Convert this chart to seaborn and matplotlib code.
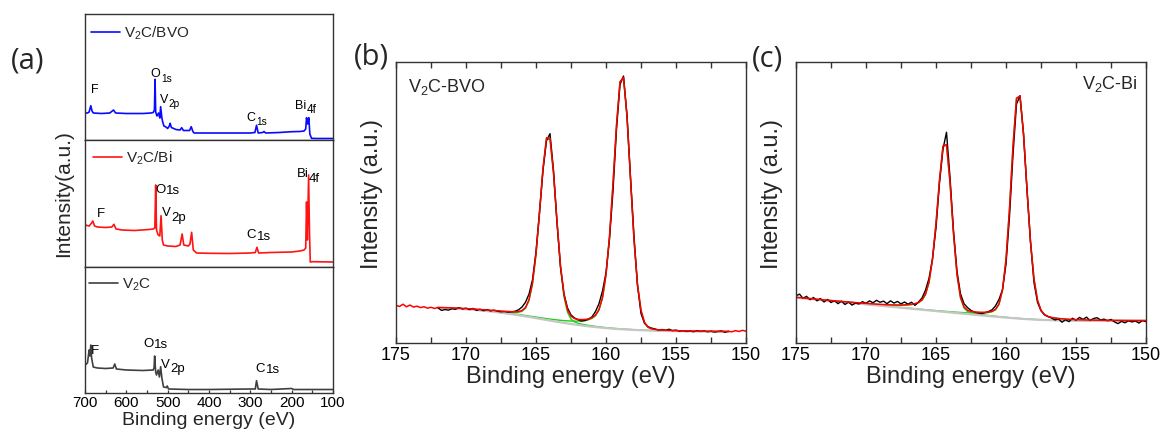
import numpy as np
import pandas as pd
import matplotlib
matplotlib.use("Agg")
import matplotlib.pyplot as plt
from matplotlib.ticker import MultipleLocator
import seaborn as sns

# ---------------- survey spectra, panel (a) ----------------
# binding energy (eV) / intensity (arb. units, offset per trace)
bvo_energy = [700, 694, 690, 686, 683, 680, 660, 640, 631, 626,
              600, 560, 540, 535, 532, 530.5, 529, 526, 522, 519,
              517, 514, 512, 509, 504, 500, 496, 494, 491, 480,
              470, 466, 462, 447, 443, 439, 436, 400, 350, 300,
              289, 285, 281, 270, 267, 263, 230, 200, 180, 170,
              166, 164, 161.5, 158.5, 156, 152, 140, 100]
bvo_counts = [27, 27, 28, 34.3, 29, 27, 26.5, 27, 30, 27,
              26.5, 26.5, 27, 27.5, 30, 60.7, 28, 24, 27, 22,
              33.3, 22, 18, 14, 13, 11.5, 14, 16.7, 12.5, 10.5,
              10, 12.3, 9.5, 9.5, 13.3, 8.5, 7, 7, 7, 7,
              7.5, 14.7, 7, 7.5, 8.5, 7, 7.5, 8.3, 8.5, 9,
              11, 22.3, 16, 22.3, 6, 1.7, 1.5, 1.5]

bi_energy = [700, 690, 684, 681, 677, 670, 650, 635, 630, 625,
             610, 580, 545, 535, 531, 529, 527, 523, 519, 516,
             513, 510, 500, 480, 470, 465, 461, 450, 446, 442,
             438, 430, 400, 350, 300, 288, 284, 280, 250, 200,
             180, 170, 166, 164, 162, 159, 157, 155, 150, 100]
bi_counts = [42, 41, 44, 46, 41, 40, 39.5, 40, 42.7, 38,
             37, 36.5, 37.5, 38, 39, 82, 37, 32, 31, 51.3,
             27, 22, 21, 20.5, 22, 33, 22, 21, 23, 34.7,
             17, 14, 13.7, 13.5, 14, 14.5, 19.7, 14, 14.5, 15,
             16, 17, 19, 65, 27, 92, 37, 5, 5.3, 5]

v2c_energy = [700, 694, 690, 688, 686, 684, 680, 670, 650, 632,
              628, 624, 600, 560, 535, 533, 531.5, 529, 527, 523,
              520, 517, 514, 510, 503, 501, 498, 450, 400, 300,
              288, 285, 281, 250, 200, 195, 150, 100]
v2c_counts = [28, 30, 43, 37, 48, 35, 26, 25, 24.5, 25,
              29, 24, 23, 22.5, 23, 25, 37, 21, 18, 23,
              16, 26.3, 15, 6, 5.5, 7, 4, 3.5, 3.5, 4,
              4, 12.3, 4, 3.5, 4.5, 3.5, 3.5, 3.5]

survey_ticks = [700, 600, 500, 400, 300, 200, 100]

# ---------------- V 2p high-resolution spectra, panels (b), (c) ----------------
hr_energy = np.linspace(175.0, 150.0, 101)   # 0.25 eV steps

bvo_hr_counts = [
    13.4, 13.0, 13.8, 12.9, 13.5, 12.8, 13.1, 12.6, 12.9, 12.4,
    12.7, 12.3, 12.5, 11.6, 11.9, 11.7, 12.2, 12.0, 12.6, 12.1,
    12.4, 11.9, 12.3, 11.6, 12.0, 11.5, 11.9, 11.4, 11.7, 11.3,
    11.1, 11.2, 11.0, 11.1, 11.3, 11.8, 12.8, 14.5, 17.4, 22.5,
    32.5, 46.5, 61.5, 72.0, 74.5, 61.5, 43.0, 27.0, 17.5, 12.5,
    10.0, 8.9, 8.3, 7.8, 8.0, 8.5, 9.3, 11.2, 14.0, 18.5,
    25.0, 37.0, 54.0, 76.0, 92.0, 95.0, 81.0, 59.0, 38.0, 20.5,
    10.5, 7.0, 5.8, 5.3, 5.0, 4.6, 4.8, 4.5, 4.9, 4.4,
    4.6, 4.2, 4.4, 4.1, 4.3, 4.0, 4.4, 4.1, 4.3, 4.0,
    4.2, 3.9, 4.1, 4.3, 3.8, 4.2, 4.0, 4.4, 4.1, 4.5,
    4.2]

bi_hr_counts = [
    16.8, 17.4, 15.9, 16.6, 15.4, 16.2, 15.0, 15.8, 14.6, 15.5,
    14.4, 15.1, 14.0, 14.9, 13.7, 14.6, 13.5, 14.2, 13.9, 14.7,
    14.1, 15.0, 14.3, 15.2, 14.5, 14.9, 14.0, 15.0, 14.2, 14.8,
    13.9, 14.6, 13.8, 14.5, 13.4, 14.6, 16.0, 18.8, 23.0, 30.0,
    41.0, 57.0, 69.0, 75.0, 59.0, 40.0, 25.5, 17.5, 14.0, 12.6,
    11.6, 11.0, 10.7, 10.5, 10.8, 11.2, 11.8, 13.2, 15.5, 19.0,
    28.0, 45.0, 67.0, 85.0, 88.0, 74.5, 54.5, 36.0, 21.5, 14.5,
    11.5, 10.0, 9.4, 8.9, 8.2, 8.6, 7.4, 8.3, 7.6, 8.8,
    8.1, 9.1, 8.4, 9.2, 8.0, 8.7, 9.0, 8.2, 8.5, 7.9,
    8.4, 7.5, 6.9, 7.7, 7.2, 7.9, 7.5, 7.8, 7.1, 8.0,
    7.6]

# fitted V 2p1/2 and 2p3/2 components (asymmetric pseudo-Voigt):
# centre, height, FWHM / Lorentzian fraction on the low- and high-BE sides
bvo_fit_centers = [164.12, 158.85]
bvo_fit_heights = [66.0, 90.9]
bvo_fit_fwhm_low = [1.30, 1.38]
bvo_fit_fwhm_high = [1.40, 1.45]
bvo_fit_eta_low = [0.10, 0.05]
bvo_fit_eta_high = [0.15, 0.30]
bvo_fit_window = (172.0, 151.25)
# background: base + step*sigmoid((E-c)/w) + slope*soft*softplus((E-knee)/soft)
bvo_bg = dict(base=4.0, step=9.0, center=164.6, width=2.6, slope=0.0, knee=157.0, soft=1.0)

bi_fit_centers = [164.36, 159.12]
bi_fit_heights = [61.0, 81.0]
bi_fit_fwhm_low = [1.15, 1.38]
bi_fit_fwhm_high = [1.30, 1.22]
bi_fit_eta_low = [0.10, 0.15]
bi_fit_eta_high = [0.35, 0.20]
bi_fit_window = (175.0, 150.0)
bi_bg = dict(base=7.9, step=0.0, center=164.0, width=2.0, slope=0.48, knee=157.8, soft=1.2)

hr_ticks = [175, 170, 165, 160, 155, 150]

# ---------------- styling ----------------
sns.set_theme(style="ticks")
plt.rcParams["font.family"] = ["Liberation Sans", "DejaVu Sans"]
plt.rcParams.update({
    "mathtext.fontset": "custom",
    "mathtext.rm": "Liberation Sans",
    "mathtext.it": "Liberation Sans:italic",
    "mathtext.bf": "Liberation Sans:bold",
    "axes.edgecolor": "#333333",
    "axes.linewidth": 1.0,
    "xtick.color": "#333333",
    "xtick.labelcolor": "black",
    "xtick.direction": "in",
    "axes.facecolor": "white",
    "figure.facecolor": "white",
})

W, H = 1169, 441
fig = plt.figure(figsize=(W / 100, H / 100), dpi=100)


def box(left, top, right, bottom):
    return fig.add_axes([left / W, 1 - bottom / H, (right - left) / W, (bottom - top) / H])


def pseudo_voigt(e, center, height, fwhm_lo, fwhm_hi, eta_lo, eta_hi):
    high_side = e >= center
    fwhm = np.where(high_side, fwhm_hi, fwhm_lo)
    eta = np.where(high_side, eta_hi, eta_lo)
    x2 = (2.0 * (e - center) / fwhm) ** 2
    return height * ((1 - eta) * np.exp(-np.log(2) * x2) + eta / (1 + x2))


def background(e, base, step, center, width, slope, knee, soft):
    sig = 1.0 / (1.0 + np.exp(-(e - center) / width))
    return base + step * sig + slope * soft * np.log1p(np.exp((e - knee) / soft))


def peak_label(ax, energy, level, main, sub=None, size=9.5, sub_size=None, drop=1.0):
    t = ax.text(energy, level, main, fontsize=size, ha="left", va="baseline", color="black")
    if sub:
        ax.annotate(sub, xy=(1, 0), xycoords=t, xytext=(0.3, -drop),
                    textcoords="offset points", fontsize=sub_size or size,
                    ha="left", va="bottom", color="black")


# ---------------- panel (a) ----------------
survey = [
    ("V$_2$C/BVO", bvo_energy, bvo_counts, "#0a0aff", (85, 14, 333, 140), 126, (0.023, 0.915)),
    ("V$_2$C/Bi", bi_energy, bi_counts, "#ff1414", (85, 140, 333, 267), 127, (0.032, 0.928)),
    ("V$_2$C", v2c_energy, v2c_counts, "#404040", (85, 267, 333, 393), 126, (0.016, 0.922)),
]
survey_axes = []
for name, en, ct, col, rect, ytop, leg_xy in survey:
    ax = box(*rect)
    df = pd.DataFrame({"energy": en, "counts": ct})
    sns.lineplot(data=df, x="energy", y="counts", ax=ax, color=col, lw=1.2,
                 sort=False, estimator=None, label=name)
    ax.set_xlim(700, 100)
    ax.set_ylim(0, ytop)
    ax.set_xlabel("")
    ax.set_ylabel("")
    ax.set_yticks([])
    ax.tick_params(axis="x", which="both", bottom=False, labelbottom=False)
    ax.legend(loc="upper left", bbox_to_anchor=leg_xy, frameon=False, fontsize=11,
              handlelength=1.9, handletextpad=0.25, borderpad=0, borderaxespad=0)
    survey_axes.append(ax)

ax_top, ax_mid, ax_bot = survey_axes
ax_bot.set_xticks(survey_ticks)
ax_bot.xaxis.set_minor_locator(MultipleLocator(50))
ax_bot.tick_params(axis="x", which="both", bottom=True, labelbottom=True,
                   length=2.5, width=0.9, pad=2.5, labelsize=11)
ax_bot.set_xlabel("Binding energy (eV)", fontsize=14, labelpad=1)

# peak assignments
peak_label(ax_top, 686.2, 46.7, "F", size=9)
peak_label(ax_top, 541.0, 62.7, "O", "1s", size=9, sub_size=7.3, drop=2.4)
peak_label(ax_top, 518.5, 37.3, "V", "2p", size=9, sub_size=7.3, drop=2.4)
peak_label(ax_top, 308.8, 19.0, "C", "1s", size=9, sub_size=7.3, drop=2.4)
peak_label(ax_top, 192.0, 30.7, "Bi", "4f", size=9, sub_size=8.5, drop=2.4)

peak_label(ax_mid, 670.2, 49.7, "F", size=9.5)
peak_label(ax_mid, 529.0, 73.7, "O", "1s", size=9.5, drop=0.8)
peak_label(ax_mid, 513.0, 51.0, "V", "2p", size=9.5, drop=3.3)
peak_label(ax_mid, 308.8, 28.7, "C", "1s", size=9.5, drop=1.5)
peak_label(ax_mid, 187.5, 89.7, "Bi", "4f", size=9.5, drop=3.5)

peak_label(ax_bot, 686.2, 39.0, "F", size=9.5)
peak_label(ax_bot, 558.9, 45.7, "O", "1s", size=9.5, drop=0.7)
peak_label(ax_bot, 515.4, 25.3, "V", "2p", size=9.5, drop=3.0)
peak_label(ax_bot, 287.0, 21.3, "C", "1s", size=9.5, drop=0.7)

fig.text(73.5 / W, 1 - 194 / H, "Intensity(a.u.)", rotation=90, ha="right", va="center",
         fontsize=15)

# ---------------- panels (b) and (c) ----------------
hr = [
    ("V$_2$C-BVO", bvo_hr_counts,
     (bvo_fit_centers, bvo_fit_heights, bvo_fit_fwhm_low, bvo_fit_fwhm_high,
      bvo_fit_eta_low, bvo_fit_eta_high),
     bvo_bg, bvo_fit_window, (396, 62, 746, 343), (0.034, 0.894, "left")),
    ("V$_2$C-Bi", bi_hr_counts,
     (bi_fit_centers, bi_fit_heights, bi_fit_fwhm_low, bi_fit_fwhm_high,
      bi_fit_eta_low, bi_fit_eta_high),
     bi_bg, bi_fit_window, (796, 62, 1146, 343), (0.977, 0.903, "right")),
]
for name, counts, fit, bgp, window, rect, tag in hr:
    ax = box(*rect)
    e = hr_energy
    data = np.asarray(counts)
    inside = (e <= window[0] + 1e-9) & (e >= window[1] - 1e-9)
    bg = background(e, **bgp)
    comps = [pseudo_voigt(e, *p) for p in zip(*fit)]
    envelope = bg + np.sum(comps, axis=0)
    fit_line = np.where(inside, envelope, data)

    for comp in comps:
        sns.lineplot(x=e[inside], y=(bg + comp)[inside], ax=ax, color="#18d018", lw=1.0,
                     sort=False, estimator=None)
    sns.lineplot(x=e[inside], y=bg[inside], ax=ax, color="#c6c6c6", lw=1.6,
                 sort=False, estimator=None)
    sns.lineplot(x=e[inside], y=data[inside], ax=ax, color="black", lw=1.0,
                 sort=False, estimator=None)
    sns.lineplot(x=e, y=fit_line, ax=ax, color="#ff0000", lw=1.1,
                 sort=False, estimator=None)

    ax.set_xlim(175, 150)
    ax.set_ylim(0, 100)
    ax.set_yticks([])
    ax.set_xticks(hr_ticks)
    ax.xaxis.set_minor_locator(MultipleLocator(2.5))
    ax.tick_params(axis="x", which="both", top=True, bottom=True, direction="in",
                   length=4, width=1.0, pad=3, labelsize=13)
    ax.set_xlabel("Binding energy (eV)", fontsize=17, labelpad=1.5)
    ax.set_ylabel("Intensity (a.u.)", fontsize=17)
    ax.yaxis.set_label_coords(-0.037, 0.53)
    ax.text(tag[0], tag[1], name, transform=ax.transAxes, ha=tag[2], va="baseline",
            fontsize=13)

# panel letters
for letter, cx, cy in [("(a)", 28, 61), ("(b)", 371, 57), ("(c)", 767.5, 59)]:
    fig.text(cx / W, 1 - cy / H, letter, ha="center", va="center", fontsize=21,
             family=["Open Sans", "DejaVu Sans"])

fig.savefig("out.png", dpi=100)
